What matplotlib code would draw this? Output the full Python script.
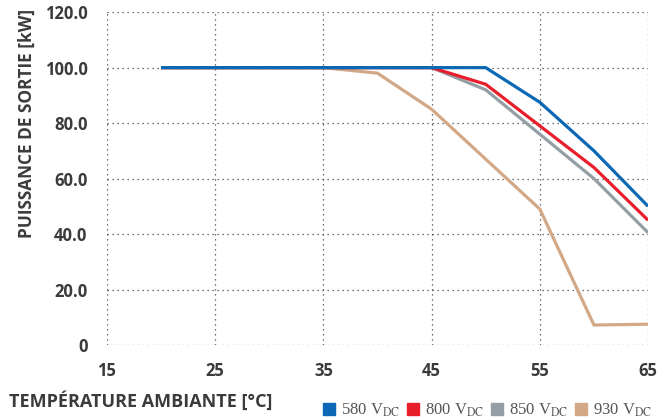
import matplotlib.pyplot as plt
from matplotlib.lines import Line2D

# Derating curve: output power vs ambient temperature
temps = [20, 25, 30, 35, 40, 45, 50, 55, 60, 65]
p580 = [100, 100, 100, 100, 100, 100, 100, 87.5, 70, 50]
p800 = [100, 100, 100, 100, 100, 100, 94, 79, 64, 45]
p850 = [100, 100, 100, 100, 100, 100, 92, 76, 60, 40.5]
p930 = [100, 100, 100, 100, 98, 85, 67, 49, 7.2, 7.5]

labels = ["580", "800", "850", "930"]
colors = ["#0a68b4", "#e81e2b", "#939ea5", "#d2a887"]

xticks = [15, 25, 35, 45, 55, 65]
yticks = [0, 20, 40, 60, 80, 100, 120]
ytick_labels = ["0", "20.0", "40.0", "60.0", "80.0", "100.0", "120.0"]

txt = "#3b3b3b"
plt.rcParams["font.family"] = ["Open Sans", "DejaVu Sans"]
plt.rcParams["mathtext.fontset"] = "stix"

fig = plt.figure(figsize=(6.64, 4.19), dpi=100)
ax = fig.add_axes([0.161, 0.1766, 0.815, 0.7944])

series = [p580, p800, p850, p930]
for vals, c in reversed(list(zip(series, colors))):
    ax.plot(temps, vals, color=c, lw=2.3, solid_capstyle="butt", zorder=3)

ax.set_xlim(15, 65)
ax.set_ylim(0, 120)
ax.set_xticks(xticks)
ax.set_yticks(yticks)
ax.set_yticklabels(ytick_labels)
ax.grid(True, linestyle=(0, (1, 3)), color="#444444", lw=0.9)
for s in ax.spines.values():
    s.set_visible(False)
ax.tick_params(length=0, labelsize=12, labelcolor=txt)
ax.tick_params(axis="y", pad=14)
ax.tick_params(axis="x", pad=12)
for lab in ax.get_xticklabels() + ax.get_yticklabels():
    lab.set_fontweight("bold")

fig.text(0.014, 0.043, "TEMPÉRATURE AMBIANTE [°C]", fontsize=13,
         fontweight="bold", color=txt, ha="left", va="center")
fig.text(0.041, (419 - 238) / 419, "PUISSANCE DE SORTIE [kW]", fontsize=12.4,
         fontweight="bold", color=txt, rotation=90, ha="center", va="bottom")

handles = [Line2D([], [], marker="s", ls="none", color=c, markersize=8)
           for c in colors]
leg_labels = [l + r" V$_{\rm DC}$" for l in labels]
fig.legend(handles, leg_labels, loc="center right", bbox_to_anchor=(1.0, 0.02),
           ncol=4, frameon=False, handletextpad=0.2, columnspacing=0.3,
           handlelength=1.0, prop={"family": "Liberation Serif", "size": 12},
           labelcolor="#555555", borderpad=0.2)

fig.savefig("out.png", dpi=100)
